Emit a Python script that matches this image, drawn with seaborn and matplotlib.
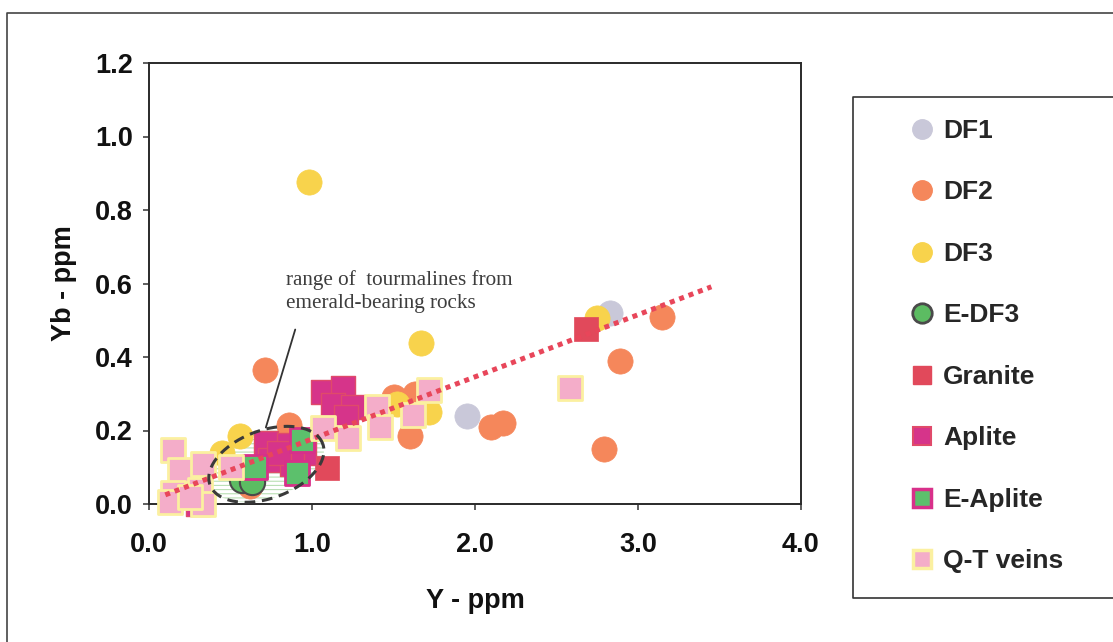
import numpy as np
import pandas as pd
import matplotlib
matplotlib.use("Agg")
import matplotlib.pyplot as plt
import seaborn as sns
from matplotlib.lines import Line2D
from matplotlib.patches import Polygon
from matplotlib.ticker import FormatStrFormatter

# ---- Y and Yb contents of tourmalines (ppm) ----
df1_y = [2.83, 1.95]
df1_yb = [0.52, 0.24]

df2_y = [0.71, 0.86, 3.15, 2.89, 2.79, 2.17, 2.10, 1.60, 1.50, 1.63, 0.62]
df2_yb = [0.365, 0.215, 0.51, 0.39, 0.15, 0.22, 0.21, 0.185, 0.29, 0.30, 0.05]

df3_y = [0.98, 1.67, 2.75, 0.56, 1.72, 1.52, 0.45]
df3_yb = [0.875, 0.437, 0.506, 0.185, 0.25, 0.272, 0.14]

edf3_y = [0.57, 0.63]
edf3_yb = [0.065, 0.06]

granite_y = [2.68, 1.09]
granite_yb = [0.476, 0.098]

aplite_y = [1.07, 1.19, 1.13, 1.25, 1.21, 0.72, 0.86, 0.95, 0.74, 0.88, 0.80, 0.30]
aplite_yb = [0.305, 0.316, 0.27, 0.265, 0.237, 0.165, 0.16, 0.14, 0.12, 0.11, 0.14, 0.0]

eaplite_y = [0.94, 0.91, 0.65]
eaplite_yb = [0.175, 0.085, 0.10]

qt_y = [2.58, 1.72, 1.62, 1.40, 1.42, 1.22, 1.07, 0.15, 0.19, 0.33, 0.15, 0.31,
        0.33, 0.50, 0.13, 0.25]
qt_yb = [0.315, 0.31, 0.242, 0.264, 0.21, 0.18, 0.206, 0.147, 0.093, 0.11, 0.03,
         0.038, 0.0, 0.10, 0.005, 0.02]

# linear trend of Yb on Y
trend_slope = 0.169
trend_intercept = 0.008
trend_x = [0.10, 3.45]

x_ticks = [0.0, 1.0, 2.0, 3.0, 4.0]
y_ticks = [0.0, 0.2, 0.4, 0.6, 0.8, 1.0, 1.2]

groups = [
    ("DF1", df1_y, df1_yb, dict(marker="o", fc="#c9c8d9", ec="#c9c8d9", lw=0.5)),
    ("DF2", df2_y, df2_yb, dict(marker="o", fc="#f5875b", ec="#f5875b", lw=0.5)),
    ("DF3", df3_y, df3_yb, dict(marker="o", fc="#f8d34c", ec="#f8d34c", lw=0.5)),
    ("E-DF3", edf3_y, edf3_yb, dict(marker="o", fc="#5cbc62", ec="#4a4a4a", lw=1.5)),
    ("Granite", granite_y, granite_yb, dict(marker="s", fc="#e1495b", ec="#e1495b", lw=0.5)),
    ("Aplite", aplite_y, aplite_yb, dict(marker="s", fc="#d6348a", ec="#e04a6a", lw=1.0)),
    ("E-Aplite", eaplite_y, eaplite_yb, dict(marker="s", fc="#5cc06c", ec="#d8308a", lw=2.0)),
    ("Q-T veins", qt_y, qt_yb, dict(marker="s", fc="#f4adc9", ec="#fbf0a0", lw=2.0)),
]

sns.set_style("ticks")
plt.rcParams["font.family"] = ["Liberation Sans", "DejaVu Sans"]
plt.rcParams["hatch.linewidth"] = 0.8

fig = plt.figure(figsize=(11.13, 6.42), dpi=100)
fig.patch.set_facecolor("white")
ax = fig.add_axes([149 / 1113, 1 - 504 / 642, 652 / 1113, 441 / 642])
ax.set_xlim(0, 4)
ax.set_ylim(0, 1.2)

for name, xs, ys, st in groups:
    d = pd.DataFrame({"Y": xs, "Yb": ys})
    size = 330 if st["marker"] == "o" else 300
    sns.scatterplot(data=d, x="Y", y="Yb", ax=ax, marker=st["marker"], s=size,
                    color=st["fc"], edgecolor=st["ec"], linewidth=st["lw"],
                    zorder=3, clip_on=False, legend=False)

# trend line
tx = np.array(trend_x)
ax.plot(tx, trend_slope * tx + trend_intercept, color="#e8465a", lw=3.6,
        linestyle=(0, (1, 1)), dash_capstyle="butt", zorder=5)

# ellipse around the emerald-related samples (drawn in pixel units)
p0 = ax.transData.transform((0, 0))
p1 = ax.transData.transform((1, 1))
sx, sy = p1 - p0
cx, cy = 0.72, 0.108
a, b, th = 60.0, 34.0, np.deg2rad(20)
t = np.linspace(0, 2 * np.pi, 240)
ex = a * np.cos(t) * np.cos(th) - b * np.sin(t) * np.sin(th)
ey = a * np.cos(t) * np.sin(th) + b * np.sin(t) * np.cos(th)
pts = np.column_stack([cx + ex / sx, cy + ey / sy])
ax.add_patch(Polygon(pts, closed=True, facecolor="none", edgecolor="#b9dfb3",
                     lw=0, hatch="----", zorder=2))
ax.plot(pts[:, 0], pts[:, 1], color="#3a3a3a", lw=2.2,
        linestyle=(0, (3.5, 2.2)), zorder=6)

ax.text(0.84, 0.637, "range of  tourmalines from\nemerald-bearing rocks",
        family=["Liberation Serif", "DejaVu Serif"], fontsize=15.2,
        color="#3d3d3d", ha="left", va="top", linespacing=1.3, zorder=7)
ax.annotate("", xy=(0.712, 0.201), xytext=(0.902, 0.482),
            arrowprops=dict(arrowstyle="-", color="#333333", lw=1.3), zorder=7)

# axes styling
for sp in ax.spines.values():
    sp.set_color("#2a2a2a")
    sp.set_linewidth(1.4)
ax.set_xticks(x_ticks)
ax.set_yticks(y_ticks)
ax.xaxis.set_major_formatter(FormatStrFormatter("%.1f"))
ax.yaxis.set_major_formatter(FormatStrFormatter("%.1f"))
ax.tick_params(axis="both", direction="out", length=4.5, width=1.1,
               color="#333333", labelsize=19.5, labelcolor="#111111")
ax.tick_params(axis="x", pad=16)
ax.tick_params(axis="y", pad=7)
for lab in ax.get_xticklabels() + ax.get_yticklabels():
    lab.set_fontweight("bold")
ax.set_xlabel("Y - ppm", fontsize=19.5, fontweight="bold", color="#111111",
              labelpad=21.5)
ax.set_ylabel("Yb - ppm", fontsize=19.5, fontweight="bold", color="#111111",
              labelpad=13)

# legend
handles = []
for name, xs, ys, st in groups:
    handles.append(Line2D([], [], linestyle="none", marker=st["marker"],
                          markersize=14 if st["marker"] == "o" else 13.5,
                          markerfacecolor=st["fc"], markeredgecolor=st["ec"],
                          markeredgewidth=st["lw"] + 0.5, label=name))
fig.legend(handles=handles, loc="upper left",
           bbox_to_anchor=(909 / 1113, 1 - 119 / 642), frameon=False,
           prop=dict(family="Liberation Sans", weight="bold", size=19),
           labelspacing=1.42, handlelength=1.0, handletextpad=0.3,
           borderpad=0, borderaxespad=0)

# legend frame and outer frame
fw, fh = 1113, 642
def fline(xs, ys, **kw):
    fig.add_artist(Line2D(np.array(xs) / fw, 1 - np.array(ys) / fh,
                          transform=fig.transFigure, **kw))

fline([1120, 853, 853, 1120], [97, 97, 598, 598], color="#333333", lw=1.2)
fline([7, 7, 1120], [650, 13, 13], color="#444444", lw=1.2)

fig.savefig("out.png", dpi=100, facecolor="white")
